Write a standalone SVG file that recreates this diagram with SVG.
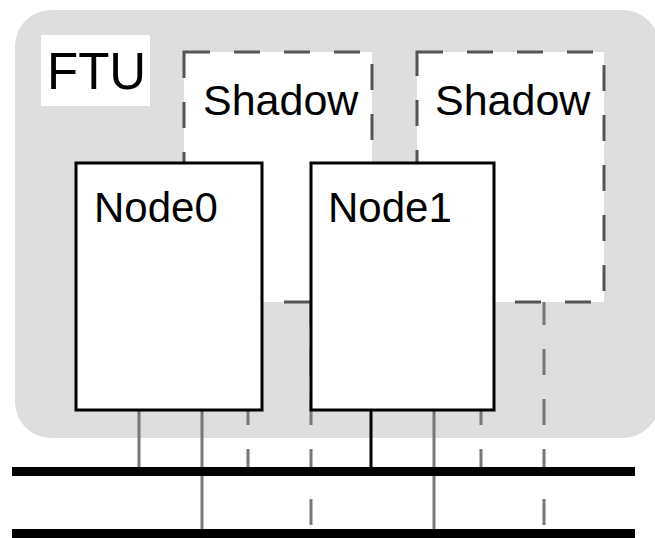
<svg xmlns="http://www.w3.org/2000/svg" width="655" height="538" viewBox="0 0 655 538">
<style>
.lbl{font-family:"Liberation Sans",Arial,sans-serif;font-size:43px;fill:#000}
.node{fill:#fff;stroke:#000;stroke-width:3}
.shadow{fill:#fff;stroke:#555;stroke-width:3;stroke-dasharray:26 24}
.conn{stroke:#777;stroke-width:3;fill:none}
.dash{stroke:#777;stroke-width:3;fill:none;stroke-dasharray:26 24;stroke-dashoffset:3}
.bus{stroke:#000;stroke-width:9}
</style>
<rect width="655" height="538" fill="#fff"/>
<g id="ftu">
<rect x="15" y="10" width="644" height="428" rx="36" ry="36" fill="#dedede"/>
<rect x="41" y="35" width="109" height="71" fill="#fff"/>
<text x="47" y="89" class="lbl" style="font-size:51px">FTU</text>
</g>
<g id="shadow0">
<rect x="184" y="52" width="188" height="250" class="shadow"/>
<text x="203" y="115" class="lbl">Shadow</text>
</g>
<g id="shadow1">
<rect x="417" y="52" width="187" height="250" class="shadow"/>
<text x="435" y="115" class="lbl">Shadow</text>
</g>
<g id="connectors">
<line x1="139" y1="411" x2="139" y2="470" class="conn"/>
<line x1="202" y1="411" x2="202" y2="532" class="conn"/>
<line x1="248" y1="302" x2="248" y2="470" class="dash"/>
<line x1="311" y1="302" x2="311" y2="532" class="dash"/>
<line x1="371" y1="411" x2="371" y2="470" class="conn" style="stroke:#000"/>
<line x1="434" y1="411" x2="434" y2="532" class="conn"/>
<line x1="481" y1="302" x2="481" y2="470" class="dash"/>
<line x1="544" y1="302" x2="544" y2="532" class="dash"/>
<line x1="12" y1="471.5" x2="635" y2="471.5" class="bus"/>
<line x1="12" y1="533.5" x2="635" y2="533.5" class="bus"/>
</g>
<g id="node0">
<rect x="76" y="163" width="186" height="247" class="node"/>
<text x="94" y="222" class="lbl" style="font-size:42px">Node0</text>
</g>
<g id="node1">
<rect x="311" y="163" width="183" height="247" class="node"/>
<text x="328" y="222" class="lbl" style="font-size:42px">Node1</text>
</g>
</svg>
